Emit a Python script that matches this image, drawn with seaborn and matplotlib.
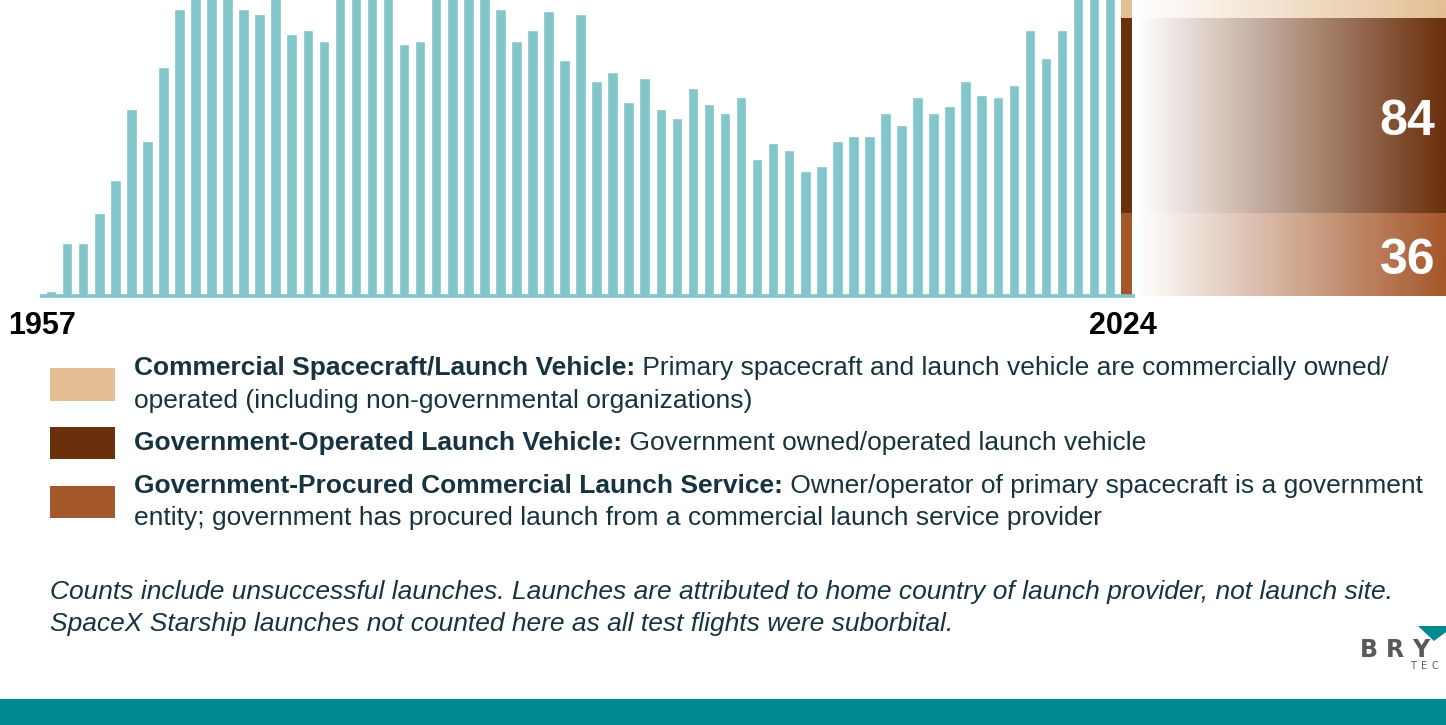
import numpy as np
import pandas as pd
import seaborn as sns
import matplotlib.pyplot as plt
from matplotlib.patches import Rectangle, Polygon

# launches per year, 1957-2023 (total)
years = list(range(1957, 2024))
launches = [2, 23, 23, 36, 50, 81, 67, 99, 124, 140,
            148, 142, 124, 122, 136, 113, 115, 110, 131, 133,
            131, 135, 109, 110, 133, 131, 132, 134, 124, 110,
            115, 123, 102, 122, 93, 97, 84, 94, 81, 77,
            90, 83, 79, 86, 59, 66, 63, 54, 56, 67,
            69, 69, 79, 74, 86, 79, 82, 93, 87, 86,
            91, 115, 103, 115, 146, 186, 223]

# 2024 split by category (bottom to top)
cat_names = ["Government-Procured Commercial Launch Service",
             "Government-Operated Launch Vehicle",
             "Commercial Spacecraft/Launch Vehicle"]
cat_2024 = [36, 84, 139]
cat_colors = ["#A4572A", "#6A2F0B", "#E4BF93"]

legend_bold = ["Commercial Spacecraft/Launch Vehicle:",
               "Government-Operated Launch Vehicle:",
               "Government-Procured Commercial Launch Service:"]
legend_rest = [["Primary spacecraft and launch vehicle are commercially owned/",
                "operated (including non-governmental organizations)"],
               ["Government owned/operated launch vehicle"],
               ["Owner/operator of primary spacecraft is a government",
                "entity; government has procured launch from a commercial launch service provider"]]
legend_colors = ["#E4BF93", "#6A2F0B", "#A4572A"]

notes = ["Counts include unsuccessful launches. Launches are attributed to home country of launch provider, not launch site.",
         "SpaceX Starship launches not counted here as all test flights were suborbital."]

BAR = "#82C5CA"
TXT = "#17333F"
TEAL = "#008A8F"
GREY = "#58595B"

sns.set_style("white")
plt.rcParams['font.family'] = ['Liberation Sans', 'DejaVu Sans']

W, H = 1446, 725
fig = plt.figure(figsize=(W / 100, H / 100), dpi=100)


def fx(px):
    return px / W


def fy(py):
    return 1 - py / H


# main bar axes
ax = fig.add_axes([fx(40), fy(300), fx(1135) - fx(40), 300 / H])
df = pd.DataFrame({"year": [str(y) for y in years], "launches": launches})
order = [str(y) for y in years] + ["2024"]
sns.barplot(data=df, x="year", y="launches", order=order, color=BAR,
            saturation=1, width=0.66, ax=ax)

# stacked 2024 bar
bottom = 0
for v, c in zip(cat_2024, cat_colors):
    ax.bar(len(years), v, bottom=bottom, width=0.68, color=c, linewidth=0)
    bottom += v

ax.axhline(0, color=BAR, lw=2.6)
ax.set_xlim(-0.69, 67.55)
ax.set_ylim(-1.73, 127.9)
ax.set_axis_off()

ax.text(-0.55, -0.113, "1957", transform=ax.get_xaxis_transform(),
        ha="center", va="baseline", fontsize=22, fontweight="bold", color="black")
ax.text(len(years) - 0.2, -0.113, "2024", transform=ax.get_xaxis_transform(),
        ha="center", va="baseline", fontsize=22, fontweight="bold", color="black")

# gradient panel on the right
gx = fig.add_axes([fx(1138), fy(300), fx(1446) - fx(1138), 300 / H])
t = np.linspace(0, 1, 300)
bottom = 0
for v, c in zip(cat_2024, cat_colors):
    rgb = np.array(plt.matplotlib.colors.to_rgb(c))
    grad = (1 - t[:, None]) * np.ones(3) + t[:, None] * rgb
    gx.imshow(grad[None, :, :], extent=[0, 1, bottom, bottom + v],
              aspect="auto", interpolation="bilinear")
    if c != "#E4BF93":
        gx.text(0.965, bottom + v / 2 - 8.6, str(v), ha="right", va="baseline",
                fontsize=36, fontweight="bold", color="white")
    bottom += v
gx.set_xlim(0, 1)
gx.set_ylim(ax.get_ylim())
gx.set_axis_off()

# legend
renderer = fig.canvas.get_renderer()
rows_y = [[368, 401], [443], [486, 518]]
swatch_y = [(368, 401), (427, 459), (486, 518)]
for b, rest, col, ys, sw in zip(legend_bold, legend_rest, legend_colors, rows_y, swatch_y):
    fig.patches.append(Rectangle((fx(50), fy(sw[1])), fx(115) - fx(50), (sw[1] - sw[0]) / H,
                                 transform=fig.transFigure, color=col, lw=0))
    tb = fig.text(fx(134), fy(ys[0]), b, fontsize=19, fontweight="bold",
                  color=TXT, va="center")
    x1 = tb.get_window_extent(renderer).x1
    fig.text(x1 / W, fy(ys[0]), " " + rest[0], fontsize=19, color=TXT, va="center")
    if len(rest) > 1:
        fig.text(fx(134), fy(ys[1]), rest[1], fontsize=19, color=TXT, va="center")

for i, n in enumerate(notes):
    fig.text(fx(50), fy(592 + 32 * i), n, fontsize=19, style="italic",
             color=TXT, va="center")

# logo, cut by the page edge
for i, ch in enumerate("BRY"):
    fig.text(fx(1360 + 26 * i), fy(657), ch, fontsize=17, color=GREY,
             va="baseline", family="DejaVu Sans", fontweight="bold")
for i, ch in enumerate("TEC"):
    fig.text(fx(1410 + 11 * i), fy(669), ch, fontsize=7, color=GREY,
             va="baseline", family="DejaVu Sans")
fig.patches.append(Polygon([(fx(1418), fy(626)), (fx(1446), fy(626)), (fx(1446), fy(632)),
                            (fx(1434), fy(641))],
                           closed=True, transform=fig.transFigure, color=TEAL, lw=0))

# bottom band
fig.patches.append(Rectangle((0, 0), 1, 26 / H, transform=fig.transFigure,
                             color=TEAL, lw=0))

fig.savefig("out.png", dpi=100, facecolor="white")
